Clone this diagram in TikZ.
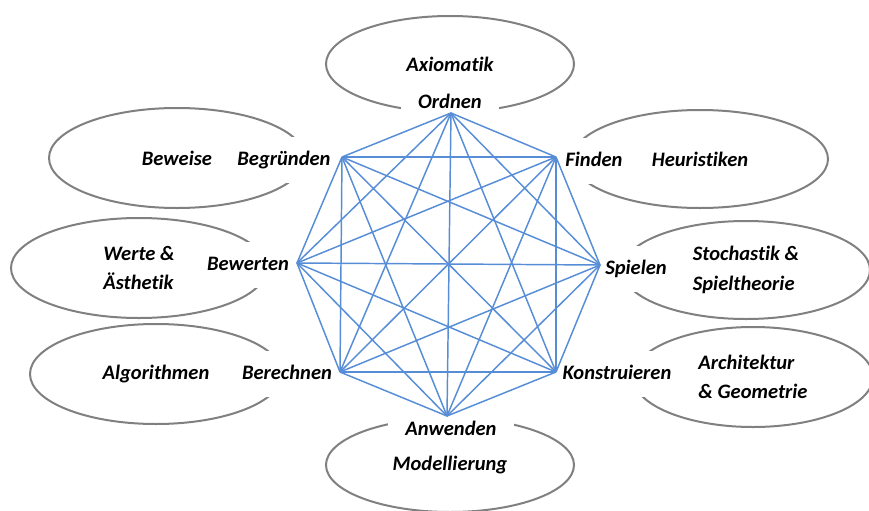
\documentclass[tikz,border=0pt]{standalone}
\usepackage{fontspec}
\setmainfont{Carlito}[Ligatures=NoCommon]
\usepackage{tikz}
\usetikzlibrary{shapes.geometric}
\definecolor{edgeblue}{RGB}{86, 141, 214}
\definecolor{ovalgray}{RGB}{128, 128, 128}

\begin{document}
\begin{tikzpicture}[
    x=0.75pt, y=-0.75pt,
    every node/.style={font=\fontsize{15.4pt}{22pt}\selectfont\bfseries\itshape},
    field/.style 2 args={ellipse, draw=ovalgray, line width=1.5pt, fill=white, minimum width=#1, minimum height=#2, inner sep=0pt, align=left},
    verb/.style={fill=white, inner xsep=13pt, inner ysep=10pt, text height=11pt, text depth=3.5pt},
    link/.style={edgeblue, line width=1.1pt}
]
\useasboundingbox (0,0) rectangle (869,511);

% ovals with the fields
\node[field={186pt}{72pt}] (axiom) at (450, 64) {Axiomatik};
\node[field={192pt}{75pt}] (beweis) at (177, 158) {Beweise};
\node[field={192pt}{75pt}] (werte) at (139, 268) {Werte \&\\Ästhetik};
\node[field={189pt}{75pt}] (algo) at (156, 374) {Algorithmen};
\node[field={186pt}{70.5pt}] (modell) at (450, 465) {Modellierung};
\node[field={192pt}{73.5pt}] (heur) at (700, 159) {Heuristiken};
\node[field={186pt}{73.5pt}] (stoch) at (746, 270) {Stochastik \&\\Spieltheorie};
\node[field={180pt}{75pt}] (archi) at (753, 377) {Architektur\\\& Geometrie};

% activities
\node[verb] (ordnen) at (450, 103) {Ordnen};
\node[verb] (finden) at (594, 161) {Finden};
\node[verb] (spielen) at (636, 269) {Spielen};
\node[verb] (konstr) at (617, 374) {Konstruieren};
\node[verb] (anwenden) at (451, 430) {Anwenden};
\node[verb] (berechnen) at (287, 374) {Berechnen};
\node[verb] (bewerten) at (248, 265) {Bewerten};
\node[verb] (begruenden) at (284, 160) {Begründen};

% octagon corners
\coordinate (v1) at (451, 113);
\coordinate (v2) at (556, 157);
\coordinate (v3) at (600, 265);
\coordinate (v4) at (556, 372);
\coordinate (v5) at (447, 416);
\coordinate (v6) at (340, 372);
\coordinate (v7) at (297, 263);
\coordinate (v8) at (342, 157);

\foreach \i in {1,...,7} {
    \pgfmathtruncatemacro\k{\i+1}
    \foreach \j in {\k,...,8} {
        \draw[link] (v\i) -- (v\j);
    }
}

\end{tikzpicture}
\end{document}
